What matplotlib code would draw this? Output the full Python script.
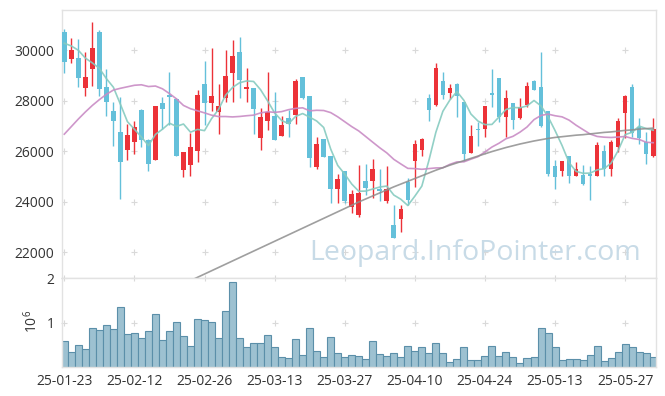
import matplotlib
matplotlib.use("Agg")
import matplotlib.pyplot as plt
import numpy as np
import pandas as pd
from matplotlib.ticker import FuncFormatter

plt.rcParams['font.family'] = ['Open Sans', 'DejaVu Sans']
plt.rcParams['mathtext.fontset'] = 'custom'
plt.rcParams['mathtext.rm'] = 'Open Sans'
plt.rcParams['mathtext.default'] = 'regular'

# 일봉 데이터 (2025-01-23 ~ 2025-06-02, 85 거래일)
tick_labels = ['25-01-23', '25-02-12', '25-02-26', '25-03-13', '25-03-27',
               '25-04-10', '25-04-24', '25-05-13', '25-05-27']

open_ = [30734, 29676, 29702, 28525, 29266, 30734, 28551, 27599, 26765, 26037,
         26381, 27639, 26449, 25667, 27916, 28220, 28088, 25270, 25469, 26024,
         28670, 27929, 27572, 28101, 29120, 29940, 28485, 28512, 26541, 27215,
         27400, 26620, 27308, 27427, 28935, 28194, 25390, 26488, 25813, 24490,
         25217, 23776, 23471, 24807, 24807, 24503, 24040, 23076, 23298, 24780,
         25614, 26040, 28101, 27824, 28790, 28300, 28671, 27956, 25945, 26898,
         26871, 28313, 28909, 27374, 27916, 27308, 27850, 28790, 28551, 27599,
         25416, 25230, 25813, 25032, 25072, 25112, 25032, 26011, 25284, 26184,
         27532, 28538, 26977, 26382, 25826]
high = [30840, 30483, 30443, 29927, 31118, 30814, 29253, 27956, 28168, 27070,
        27202, 27660, 26470, 27800, 28167, 29147, 28100, 25990, 26739, 28432,
        29583, 30112, 28670, 30020, 30404, 30523, 29305, 28530, 27705, 29147,
        28353, 27400, 27638, 28869, 28950, 28210, 26580, 26500, 25830, 25085,
        25230, 24464, 25442, 25495, 25680, 25310, 25400, 23870, 23881, 24926,
        26448, 26520, 28260, 29491, 29147, 28670, 28700, 27970, 27030, 27162,
        27800, 29253, 28920, 28432, 27930, 28101, 28750, 28810, 29927, 27610,
        25654, 25630, 25830, 25588, 25469, 25429, 26382, 26250, 26448, 27308,
        28234, 28670, 27308, 26779, 27308]
low = [29094, 29491, 28565, 28181, 28591, 28194, 27387, 26196, 24093, 25667,
       25879, 26183, 25231, 25640, 26880, 27033, 25800, 24992, 25032, 25588,
       27030, 27585, 26686, 27969, 27969, 28101, 27956, 26686, 26051, 26845,
       26450, 26610, 26580, 27083, 28075, 25390, 25310, 25770, 23960, 23933,
       23960, 23537, 23378, 24265, 24146, 24040, 23930, 22547, 22811, 23870,
       24595, 25812, 27202, 27797, 28062, 28062, 27380, 25614, 25930, 26210,
       26554, 27744, 27175, 26580, 26871, 27300, 27770, 28420, 26977, 25032,
       24503, 25032, 24728, 25020, 24675, 24066, 25020, 25019, 25019, 25985,
       26541, 26580, 26276, 25495, 25786]
close = [29557, 30007, 28922, 28948, 30099, 28485, 27969, 27215, 25575, 26646,
         26963, 26448, 25508, 27784, 27678, 28154, 25826, 25971, 26170, 28220,
         27916, 28194, 27797, 28988, 29782, 28842, 28551, 27691, 27347, 27572,
         26461, 27043, 27070, 28790, 28128, 25747, 26276, 25786, 24503, 24887,
         24027, 24305, 24357, 24530, 25297, 24424, 24500, 22573, 23696, 24053,
         26276, 26503, 27625, 29319, 28220, 28512, 28180, 25879, 26607, 26831,
         27797, 28220, 27347, 28101, 27228, 27744, 28578, 28432, 27017, 25098,
         24993, 25614, 25032, 25284, 24715, 25032, 26250, 25284, 26369, 27202,
         28207, 26712, 26514, 25879, 26884]
volume = [586000, 330000, 490000, 400000, 880000, 840000, 950000, 860000, 1350000, 750000,
          770000, 650000, 810000, 1200000, 610000, 810000, 1020000, 700000, 480000, 1070000,
          1050000, 1020000, 650000, 1260000, 1900000, 650000, 440000, 550000, 550000, 720000,
          440000, 230000, 200000, 630000, 270000, 880000, 350000, 230000, 670000, 320000,
          230000, 270000, 250000, 180000, 580000, 300000, 250000, 320000, 230000, 480000,
          370000, 460000, 320000, 550000, 320000, 110000, 180000, 440000, 160000, 160000,
          250000, 480000, 250000, 340000, 230000, 90000, 200000, 230000, 880000, 770000,
          440000, 160000, 180000, 180000, 160000, 270000, 480000, 130000, 200000, 340000,
          510000, 460000, 340000, 320000, 230000]

# 이동평균선 중 창이 다 차지 않는 앞부분은 차트에서 읽은 값
ma5_head = [30290, 30180, 30010, 29700]
ma20_head = [26680, 26980, 27280, 27560, 27820, 28050, 28260, 28430, 28500, 28560,
             28620, 28640, 28570, 28590, 28480, 28290, 28080, 27820, 27690]
# 장기 이동평균 (회색), 18번째 거래일부터
ma_long_start = 18
ma_long = [20870, 21000, 21130, 21260, 21390, 21520, 21650, 21780, 21910, 22040,
           22170, 22300, 22430, 22560, 22690, 22820, 22950, 23080, 23210, 23340,
           23470, 23600, 23730, 23860, 23990, 24110, 24230, 24350, 24470, 24590,
           24700, 24810, 24920, 25030, 25140, 25250, 25350, 25450, 25540, 25630,
           25720, 25810, 25900, 25990, 26070, 26150, 26220, 26290, 26350, 26410,
           26460, 26510, 26550, 26580, 26610, 26640, 26660, 26690, 26720, 26750,
           26770, 26800, 26830, 26850, 26880, 26900, 26920]

UP = '#ec3238'
DOWN = '#64c0da'
GRID = '#d9d9d9'
SPINE = '#e2e2e2'
TXT = '#333333'

fig = plt.figure(figsize=(6.65, 3.96), dpi=100)
L, R = 61.5 / 665, 656 / 665
ax = fig.add_axes([L, 1 - 278 / 396, R - L, 268 / 396])
axv = fig.add_axes([L, 1 - 367 / 396, R - L, 89 / 396], sharex=ax)

x = np.arange(len(close))
o = np.array(open_, dtype=float)
c = np.array(close, dtype=float)
colors = np.where(c >= o, UP, DOWN)

# 캔들
ax.vlines(x, low, high, colors=colors, lw=1.0, zorder=3)
ax.bar(x, np.maximum(np.abs(c - o), 40), bottom=np.minimum(o, c), width=0.66,
       color=colors, lw=0, zorder=3)

# 이동평균선
cs = pd.Series(c)
ma5 = cs.rolling(5).mean().to_numpy()
ma5[:4] = ma5_head
ma20 = cs.rolling(20).mean().to_numpy()
ma20[:19] = ma20_head
ax.plot(x, ma5, color='#86cbc0', lw=1.2, alpha=0.9, zorder=4)
ax.plot(x, ma20, color='#c98cc5', lw=1.2, alpha=0.9, zorder=4)
ax.plot(x[ma_long_start:], ma_long, color='#8e8e8e', lw=1.2, alpha=0.85, zorder=4)

ax.set_xlim(-0.4, 84.4)
ax.set_ylim(20973, 31607)
yt = [22000, 24000, 26000, 28000, 30000]
ax.set_yticks(yt)
xt = list(range(0, len(close), 10))

# '+' 모양 격자
gx, gy = np.meshgrid(xt, yt)
ax.scatter(gx.ravel(), gy.ravel(), marker='+', s=22, color=GRID, lw=0.8, zorder=1)

ax.text(475 / 665, 1 - 253 / 396, 'Leopard.InfoPointer.com', transform=fig.transFigure,
        fontsize=20.5, color='#c8dbe7', ha='center', va='center', zorder=2)

# 거래량
axv.bar(x, volume, width=1.0, color='#9dc1d1', edgecolor='#5b8fa9', lw=0.8, zorder=2)
axv.set_ylim(0, 2e6)
axv.set_yticks([1e6, 2e6])
axv.yaxis.set_major_formatter(FuncFormatter(lambda v, p: f'{v / 1e6:g}'))
gx, gy = np.meshgrid(xt, [1e6, 2e6])
axv.scatter(gx.ravel(), gy.ravel(), marker='+', s=22, color=GRID, lw=0.8, zorder=1,
            clip_on=False)
fig.text(32 / 665, 1 - 321 / 396, '$10^6$', rotation=90, ha='center', va='center',
         fontsize=10, color=TXT)

axv.set_xticks(xt)
axv.set_xticklabels(tick_labels)
ax.tick_params(axis='x', labelbottom=False, length=0)

for a in (ax, axv):
    a.tick_params(length=0, labelsize=10, colors=TXT, pad=5)
    for s in a.spines.values():
        s.set_color(SPINE)
        s.set_linewidth(1.0)

fig.savefig('out.png', dpi=100)
